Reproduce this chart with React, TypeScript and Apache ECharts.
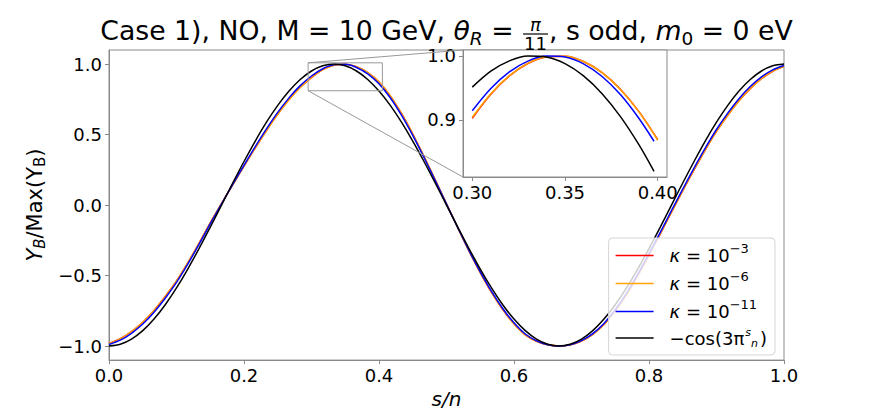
import React, { useEffect, useRef } from "react";
import * as echarts from "echarts";

// ---------- data ----------
const sValues = [
  0, 0.0167, 0.0333, 0.05, 0.0667, 0.0833, 0.1, 0.1167, 0.1333, 0.15, 0.1667,
  0.1833, 0.2, 0.2167, 0.2333, 0.25, 0.2667, 0.2833, 0.3, 0.3167, 0.3333,
  0.35, 0.3667, 0.3833, 0.4, 0.4167, 0.4333, 0.45, 0.4667, 0.4833, 0.5,
  0.5167, 0.5333, 0.55, 0.5667, 0.5833, 0.6, 0.6167, 0.6333, 0.65, 0.6667,
  0.6833, 0.7, 0.7167, 0.7333, 0.75, 0.7667, 0.7833, 0.8, 0.8167, 0.8333,
  0.85, 0.8667, 0.8833, 0.9, 0.9167, 0.9333, 0.95, 0.9667, 0.9833, 1,
];

const kappa3 = [
  -0.9815, -0.9486, -0.8978, -0.8313, -0.7476, -0.6492, -0.5386, -0.4105, -0.2712, -0.126, 0.0107,
  0.1437, 0.2759, 0.4055, 0.5289, 0.6447, 0.7484, 0.8354, 0.904, 0.9603, 0.9922,
  0.9993, 0.9815, 0.9394, 0.873, 0.7748, 0.6499, 0.5042, 0.3441, 0.1782, 0.0089,
  -0.1609, -0.3259, -0.479, -0.6195, -0.7406, -0.8429, -0.9209, -0.9666, -0.9918, -1,
  -0.9915, -0.965, -0.9174, -0.8475, -0.7522, -0.6365, -0.5019, -0.3547, -0.204, -0.051,
  0.1024, 0.25, 0.3903, 0.5221, 0.637, 0.7398, 0.8262, 0.8965, 0.9494, 0.9835,
];

const kappa6 = [
  -0.9824, -0.9489, -0.898, -0.8315, -0.7478, -0.6494, -0.5388, -0.4107, -0.2714, -0.1262, 0.0105,
  0.1435, 0.2756, 0.4051, 0.5284, 0.6441, 0.7478, 0.8348, 0.9056, 0.9608, 0.9925,
  0.9993, 0.9813, 0.9391, 0.8725, 0.7743, 0.6494, 0.5038, 0.3437, 0.1779, 0.0087,
  -0.1607, -0.3256, -0.4787, -0.6191, -0.7402, -0.8425, -0.9205, -0.9664, -0.9917, -1,
  -0.9914, -0.9648, -0.9171, -0.8471, -0.7518, -0.6361, -0.5015, -0.3543, -0.2036, -0.0506,
  0.1028, 0.2504, 0.3907, 0.5225, 0.6374, 0.7402, 0.8266, 0.8969, 0.9497, 0.984,
];

const kappa11 = [
  -0.9888, -0.9588, -0.91, -0.8443, -0.7604, -0.6613, -0.549, -0.4195, -0.279, -0.1323, 0.0087,
  0.1461, 0.2823, 0.4147, 0.5402, 0.6574, 0.7604, 0.8471, 0.9157, 0.9673, 0.9952,
  0.9981, 0.9763, 0.9304, 0.8607, 0.7615, 0.6374, 0.4939, 0.3371, 0.1736, 0.007,
  -0.1599, -0.3223, -0.4741, -0.6129, -0.7337, -0.8358, -0.915, -0.9636, -0.991, -1,
  -0.9907, -0.9622, -0.9121, -0.8396, -0.7431, -0.6266, -0.4924, -0.3453, -0.1942, -0.0401,
  0.1132, 0.2622, 0.4035, 0.5358, 0.6521, 0.7547, 0.8406, 0.9093, 0.9593, 0.9898,
];

const cosRef = [
  -1, -0.9877, -0.9511, -0.891, -0.809, -0.7071, -0.5878, -0.454, -0.309, -0.1564, 0,
  0.1564, 0.309, 0.454, 0.5878, 0.7071, 0.809, 0.891, 0.9511, 0.9877, 1,
  0.9877, 0.9511, 0.891, 0.809, 0.7071, 0.5878, 0.454, 0.309, 0.1564, 0,
  -0.1564, -0.309, -0.454, -0.5878, -0.7071, -0.809, -0.891, -0.9511, -0.9877, -1,
  -0.9877, -0.9511, -0.891, -0.809, -0.7071, -0.5878, -0.454, -0.309, -0.1564, 0,
  0.1564, 0.309, 0.454, 0.5878, 0.7071, 0.809, 0.891, 0.9511, 0.9877, 1,
];

// inset (zoom of 0.30 - 0.40)
const insetS = [0.3, 0.31, 0.32, 0.33, 0.34, 0.35, 0.36, 0.37, 0.38, 0.39, 0.4];
const insetSShort = [0.3, 0.31, 0.32, 0.33, 0.34, 0.35, 0.36, 0.37, 0.38, 0.39, 0.398];
const insetKappa3 = [0.9026, 0.94, 0.9686, 0.988, 0.9982, 0.9993, 0.9911, 0.9738, 0.9475, 0.9125, 0.8691];
const insetKappa6 = [0.9041, 0.9409, 0.969, 0.9882, 0.9983, 0.9993, 0.991, 0.9736, 0.9472, 0.9121, 0.8686];
const insetKappa11 = [0.9143, 0.9489, 0.9748, 0.9917, 0.9995, 0.998, 0.9874, 0.9677, 0.9391, 0.9018, 0.8667];
const insetCos = [0.9511, 0.9759, 0.9921, 0.9995, 0.998, 0.9877, 0.9686, 0.9409, 0.9048, 0.8607, 0.8199];

// axes
const mainXRange = [0, 1];
const mainYRange = [-1.1, 1.1];
const mainXTicks = [0, 0.2, 0.4, 0.6, 0.8, 1.0];
const mainYTicks = [-1, -0.5, 0, 0.5, 1];
const insetXRange = [0.295, 0.405];
const insetYRange = [0.811, 1.009];
const insetXTicks = [0.3, 0.35, 0.4];
const insetYTicks = [0.9, 1.0];

const seriesNames = ["kappa=1e-3", "kappa=1e-6", "kappa=1e-11", "-cos(3pi s/n)"];
const seriesColors = ["#ff0000", "#ffa500", "#0000ff", "#000000"];

const FONT = "DejaVu Sans";
const GRAY = "#8a8a8a";

export default function App() {
  const ref = useRef<HTMLDivElement>(null);

  useEffect(() => {
    const el = ref.current!;
    const chart = echarts.init(el, null, { renderer: "svg" });

    const pairs = (xs: number[], ys: number[]) => xs.map((x, i) => [x, ys[i]]);
    const fmt = (v: number, d: number) => (v < 0 ? "\u2212" : "") + Math.abs(v).toFixed(d);

    const mainData = [kappa3, kappa6, kappa11, cosRef];
    const insetData = [
      pairs(insetS, insetKappa3),
      pairs(insetS, insetKappa6),
      pairs(insetSShort, insetKappa11),
      pairs(insetSShort, insetCos),
    ];

    const lineSeries = (name: string, color: string, data: number[][], idx: number) => ({
      type: "line",
      name,
      xAxisIndex: idx,
      yAxisIndex: idx,
      data,
      symbol: "none",
      showSymbol: false,
      smooth: 0.3,
      lineStyle: { color, width: 1.5 },
      itemStyle: { color },
      emphasis: { disabled: true },
      silent: true,
    });

    const series: any[] = [];
    seriesNames.forEach((n, i) => series.push(lineSeries(n, seriesColors[i], pairs(sValues, mainData[i]), 0)));
    seriesNames.forEach((n, i) => series.push(lineSeries(n, seriesColors[i], insetData[i], 1)));

    const tickLabel = { fontSize: 18, fontFamily: FONT, color: "#000" };
    const axisCommon = {
      type: "value",
      splitLine: { show: false },
      axisLine: { show: true, onZero: false, lineStyle: { color: GRAY, width: 1 } },
      axisTick: { show: true, length: 4, lineStyle: { color: GRAY, width: 1 } },
    };

    const legendLabels: Record<string, string> = {
      [seriesNames[0]]: "{it|κ} = 10{sup|−3}",
      [seriesNames[1]]: "{it|κ} = 10{sup|−6}",
      [seriesNames[2]]: "{it|κ} = 10{sup|−11}",
      [seriesNames[3]]: "−cos(3π{fs|s}{fn|n})",
    };

    const option: any = {
      animation: false,
      grid: [
        { left: 109, right: 88, top: 50, bottom: 46, show: true, borderColor: GRAY, borderWidth: 1, backgroundColor: "transparent" },
        { left: 463, top: 50, width: 204, height: 127, show: true, borderColor: GRAY, borderWidth: 1, backgroundColor: "#ffffff" },
      ],
      xAxis: [
        {
          ...axisCommon,
          gridIndex: 0,
          min: mainXRange[0],
          max: mainXRange[1],
          axisLabel: { ...tickLabel, margin: 6, customValues: mainXTicks, formatter: (v: number) => fmt(v, 1) },
          axisTick: { ...axisCommon.axisTick, customValues: mainXTicks },
          name: "s/n",
          nameLocation: "middle",
          nameGap: 25,
          nameTextStyle: { fontSize: 20, fontFamily: FONT, fontStyle: "italic", color: "#000" },
        },
        {
          ...axisCommon,
          gridIndex: 1,
          min: insetXRange[0],
          max: insetXRange[1],
          axisLabel: { ...tickLabel, margin: 6, customValues: insetXTicks, formatter: (v: number) => fmt(v, 2) },
          axisTick: { ...axisCommon.axisTick, customValues: insetXTicks },
        },
      ],
      yAxis: [
        {
          ...axisCommon,
          gridIndex: 0,
          min: mainYRange[0],
          max: mainYRange[1],
          axisLabel: { ...tickLabel, margin: 7, customValues: mainYTicks, formatter: (v: number) => fmt(v, 1) },
          axisTick: { ...axisCommon.axisTick, customValues: mainYTicks },
          name: "{yi|Y}{ybi|B}/Max(Y{yb|B})",
          nameLocation: "middle",
          nameGap: 38,
          nameRotate: 90,
          nameTextStyle: {
            fontSize: 21,
            fontFamily: FONT,
            color: "#000",
            lineHeight: 24,
            rich: {
              yi: { fontSize: 21, fontFamily: FONT, fontStyle: "italic", lineHeight: 24 },
              ybi: { fontSize: 15, fontFamily: FONT, fontStyle: "italic", padding: [10, 0, 0, 0], lineHeight: 24 },
              yb: { fontSize: 15, fontFamily: FONT, padding: [10, 0, 0, 0], lineHeight: 24 },
            },
          },
        },
        {
          ...axisCommon,
          gridIndex: 1,
          min: insetYRange[0],
          max: insetYRange[1],
          axisLabel: { ...tickLabel, margin: 7, customValues: insetYTicks, formatter: (v: number) => fmt(v, 1) },
          axisTick: { ...axisCommon.axisTick, customValues: insetYTicks },
        },
      ],
      legend: {
        data: seriesNames,
        orient: "vertical",
        right: 97,
        top: 238,
        icon: "rect",
        itemWidth: 38,
        itemHeight: 1.6,
        itemGap: 1,
        padding: [4, 8, 5, 7],
        backgroundColor: "rgba(255,255,255,0.8)",
        borderColor: "#d5d5d5",
        borderWidth: 1,
        borderRadius: 4,
        selectedMode: false,
        formatter: (name: string) => legendLabels[name] || name,
        textStyle: {
          fontSize: 18,
          fontFamily: FONT,
          color: "#000",
          lineHeight: 24,
          padding: [0, 0, 0, 11],
          rich: {
            it: { fontSize: 18, fontFamily: FONT, fontStyle: "italic", lineHeight: 24 },
            sup: { fontSize: 13, fontFamily: FONT, padding: [0, 0, 14, 0], lineHeight: 24 },
            fs: { fontSize: 11, fontFamily: FONT, fontStyle: "italic", padding: [0, 0, 12, 1], lineHeight: 24 },
            fn: { fontSize: 11, fontFamily: FONT, fontStyle: "italic", padding: [10, 2, 0, 0], lineHeight: 24 },
          },
        },
      },
      series,
    };

    chart.setOption(option);

    // ---------- zoom indicator, connectors and math title ----------
    const px = (g: number, x: number, y: number) => chart.convertToPixel({ gridIndex: g } as any, [x, y]) as number[];
    const rTL = px(0, insetXRange[0], insetYRange[1]);
    const rBR = px(0, insetXRange[1], insetYRange[0]);
    const iTL = px(1, insetXRange[0], insetYRange[1]);
    const iBL = px(1, insetXRange[0], insetYRange[0]);
    const left = px(0, mainXRange[0], 0)[0];
    const right = px(0, mainXRange[1], 0)[0];
    const cx = (left + right) / 2;

    const canvas = document.createElement("canvas");
    const ctx = canvas.getContext("2d")!;
    const measure = (t: string, size: number, italic?: boolean) => {
      ctx.font = `${italic ? "italic " : ""}${size}px "${FONT}"`;
      return ctx.measureText(t).width;
    };

    const big = 26.7;
    const small = 18.5;
    const fracSize = 18;
    const baseline = 40;
    const parts: any[] = [
      { t: "Case 1), NO, M = 10 GeV, ", size: big },
      { t: "θ", size: big, italic: true },
      { t: "R", size: small, italic: true, dy: 5 },
      { t: " = ", size: big },
      { frac: ["π", "11"], size: fracSize },
      { t: ", s odd, ", size: big },
      { t: "m", size: big, italic: true },
      { t: "0", size: small, dy: 5 },
      { t: " = 0 eV", size: big },
    ];
    parts.forEach((p) => {
      if (p.frac) {
        const w1 = measure(p.frac[0], p.size, true);
        const w2 = measure(p.frac[1], p.size);
        p.w = Math.max(w1, w2) + 4;
        p.w1 = w1;
        p.w2 = w2;
      } else {
        p.w = measure(p.t, p.size, p.italic);
      }
    });
    const total = parts.reduce((a, p) => a + p.w, 0);
    let x = cx - total / 2;
    const titleEls: any[] = [];
    const txt = (t: string, xx: number, base: number, size: number, italic?: boolean, lh?: number) => ({
      type: "text",
      x: xx,
      y: base - 0.346 * size,
      silent: true,
      z: 100,
      style: {
        text: t,
        fontSize: size,
        fontFamily: FONT,
        fontStyle: italic ? "italic" : "normal",
        fill: "#000",
        align: "left",
        verticalAlign: "middle",
        lineHeight: lh,
      },
    });
    parts.forEach((p) => {
      if (p.frac) {
        titleEls.push(txt(p.frac[0], x + (p.w - p.w1) / 2, baseline - 9, p.size, true, 16));
        titleEls.push({
          type: "line",
          silent: true,
          z: 100,
          shape: { x1: x + 1, y1: baseline - 6, x2: x + p.w - 1, y2: baseline - 6 },
          style: { stroke: "#000", lineWidth: 1.2 },
        });
        titleEls.push(txt(p.frac[1], x + (p.w - p.w2) / 2, baseline + 10, p.size, false, 16));
      } else {
        titleEls.push(txt(p.t, x, baseline + (p.dy || 0), p.size, p.italic));
      }
      x += p.w;
    });

    chart.setOption({
      graphic: [
        {
          type: "rect",
          silent: true,
          z: 50,
          shape: { x: rTL[0], y: rTL[1], width: rBR[0] - rTL[0], height: rBR[1] - rTL[1] },
          style: { fill: "none", stroke: "#999999", lineWidth: 1 },
        },
        {
          type: "line",
          silent: true,
          z: 50,
          shape: { x1: rTL[0], y1: rTL[1], x2: iTL[0], y2: iTL[1] },
          style: { stroke: "#999999", lineWidth: 1 },
        },
        {
          type: "line",
          silent: true,
          z: 50,
          shape: { x1: rTL[0], y1: rBR[1], x2: iBL[0], y2: iBL[1] },
          style: { stroke: "#999999", lineWidth: 1 },
        },
        ...titleEls,
      ],
    });

    return () => chart.dispose();
  }, []);

  return (
    <div
      ref={ref}
      style={{ position: "absolute", left: 0, top: 0, width: 872, height: 414, background: "#fff" }}
    />
  );
}
